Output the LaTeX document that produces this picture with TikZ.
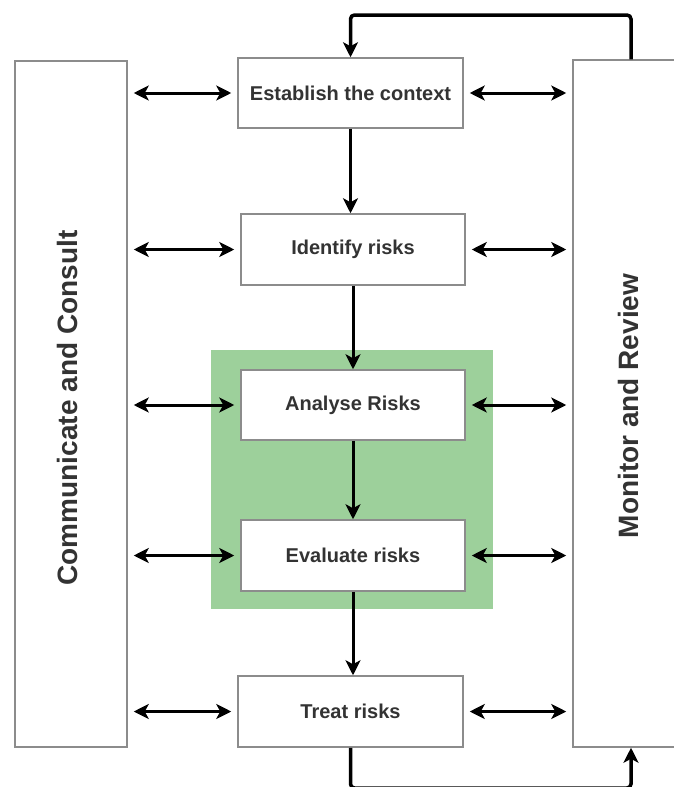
\documentclass[tikz,border=0pt]{standalone}
\usepackage{fontspec}
\setmainfont{Liberation Sans}
\usetikzlibrary{arrows.meta}
\definecolor{boxgrey}{HTML}{8C8C8C}
\definecolor{txtgrey}{HTML}{333333}
\definecolor{greenbg}{HTML}{9DD09B}
\tikzset{
  tip/.tip={Stealth[length=15pt,width=15pt,inset=4pt]},
  stepbox/.style={draw=boxgrey, line width=1.5pt, fill=white, minimum width=224pt, minimum height=70pt, inner sep=0pt, text=txtgrey, font=\fontsize{20}{24}\selectfont\bfseries},
  sidebox/.style={draw=boxgrey, line width=1.5pt, fill=white, inner sep=0pt},
  sidelabel/.style={text=txtgrey, font=\fontsize{28}{32}\selectfont\bfseries, rotate=90},
  conn/.style={draw=black, line width=3pt, -tip},
  dbl/.style={draw=black, line width=3pt, tip-tip, shorten <=6pt, shorten >=6pt},
  loopline/.style={draw=black, line width=3.5pt, rounded corners=4pt, -tip}
}
\begin{document}
\begin{tikzpicture}[x=1pt,y=-1pt]
\useasboundingbox[fill=white] (0,0) rectangle (673,787);
% green background
\node[fill=greenbg, minimum width=282pt, minimum height=259pt, inner sep=0pt] (grn) at (352,479.5) {};
% side boxes
\node[sidebox, minimum width=112pt, minimum height=686pt] (cc) at (71,404) {};
\node[sidelabel] (ccl) at (67,408) {Communicate and Consult};
\node[sidebox, minimum width=120pt, minimum height=687pt] (mr) at (633,403.5) {};
\node[sidelabel] (mrl) at (628,406) {Monitor and Review};
% steps
\node[stepbox, minimum width=225pt] (est) at (350.5,93) {Establish the context};
\node[stepbox, minimum height=71pt] (idf) at (353,249.5) {Identify risks};
\node[stepbox] (ana) at (353,405) {Analyse Risks};
\node[stepbox, minimum height=71pt] (eva) at (353,555.5) {Evaluate risks};
\node[stepbox, minimum width=225pt, minimum height=71pt] (trt) at (350.5,711.5) {Treat risks};
% vertical flow
\draw[conn] (est.south) -- (est.south |- idf.north);
\draw[conn] (idf.south) -- (ana.north);
\draw[conn] (ana.south) -- (eva.north);
\draw[conn] (eva.south) -- (eva.south |- trt.north);
% double arrows
\foreach \n in {est,idf,ana,eva,trt}{
  \draw[dbl] (cc.east |- \n.west) -- (\n.west);
  \draw[dbl] (\n.east) -- (mr.west |- \n.east);
}
% loops
\coordinate (tl) at (631,15);
\coordinate (bl) at (631,788);
\draw[loopline] (tl |- mr.north) -- (tl) -| (est.north);
\draw[loopline] (trt.south) |- (bl) -- (bl |- mr.south);
\end{tikzpicture}
\end{document}
